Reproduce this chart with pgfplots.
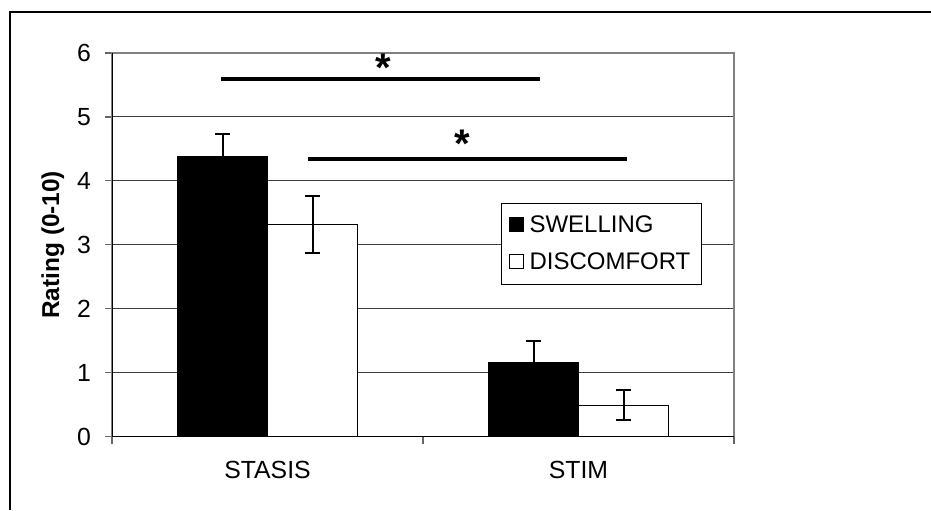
\documentclass[border=0pt]{standalone}
\usepackage{fontspec}
\setmainfont{Liberation Sans}
\usepackage{pgfplots}
\pgfplotsset{compat=1.18}
\pgfplotsset{
  common/.style={
    at={(56pt,36.75pt)}, anchor=south west,
    scale only axis, width=311pt, height=191.75pt,
    xmin=-0.5, xmax=1.5, ymin=0, ymax=6,
  }
}
\begin{document}
\begin{tikzpicture}[x=1pt,y=1pt]
\useasboundingbox (0,0) rectangle (465.5,255);
\draw[line width=0.65pt] (5,0) -- (5,249) -- (465.5,249);
\begin{axis}[
  common,
  ybar=0pt, bar width=45pt,
  xtick={-0.5,0.5,1.5}, xticklabels={},
  extra x ticks={0,1}, extra x tick labels={STASIS,STIM},
  extra x tick style={major tick length=0pt, grid=none, xticklabel style={yshift=-9pt}},
  ytick={0,1,2,3,4,5,6},
  tick pos=left, tick align=outside, major tick length=3.5pt,
  ymajorgrids, grid style={black!75, line width=0.5pt},
  axis line style={black!50, line width=0.6pt},
  tick style={black!60, line width=0.6pt},
  /pgf/number format/assume math mode=true,
  tick label style={font=\fontsize{12.4}{14}\selectfont},
  yticklabel style={xshift=-3.5pt},
  ylabel={Rating (0-10)},
  ylabel style={font=\fontsize{12.2}{14}\selectfont\bfseries, at={(axis description cs:-0.0949,0.5)}, anchor=center},
  legend style={at={(0.6254,0.6089)}, anchor=north west, draw=black, line width=0.5pt,
    inner xsep=3.5pt, inner ysep=4pt, row sep=4.6pt, font=\fontsize{12}{14}\selectfont,
    /tikz/every odd column/.append style={column sep=1pt}},
  legend cell align=left,
  error bars/y dir=both, error bars/y explicit,
  error bars/error bar style={line width=1pt, black},
  error bars/error mark options={line width=1pt, mark size=3.75pt, black, rotate=90},
]
\addplot[fill=black, draw=black, line width=0.65pt,
  legend image code/.code={\draw[black, line width=0.5pt, fill=black] (0pt,-3pt) rectangle (7pt,4pt);}]
  coordinates {(0,4.38) +- (0,0.35) (1,1.16) +- (0,0.33)};
\addlegendentry{SWELLING}
\addplot[fill=white, draw=black, line width=0.65pt,
  legend image code/.code={\draw[black, line width=0.5pt, fill=white] (0pt,-3pt) rectangle (7pt,4pt);}]
  coordinates {(0,3.32) +- (0,0.445) (1,0.49) +- (0,0.235)};
\addlegendentry{DISCOMFORT}
\draw[black, line width=0.65pt] (rel axis cs:0,1) -- (rel axis cs:0,0) -- (rel axis cs:1,0);
\end{axis}
\begin{axis}[common, axis lines=none, clip=false]
\addplot[black, line width=1.65pt, no marks] coordinates {(-0.1495,5.594) (0.876,5.594)};
\addplot[black, line width=1.65pt, no marks] coordinates {(0.130,4.343) (1.156,4.343)};
\node[font=\fontsize{20}{20}\selectfont\bfseries] at (axis cs:0.371,5.765) {*};
\node[font=\fontsize{20}{20}\selectfont\bfseries] at (axis cs:0.625,4.576) {*};
\end{axis}
\end{tikzpicture}
\end{document}
